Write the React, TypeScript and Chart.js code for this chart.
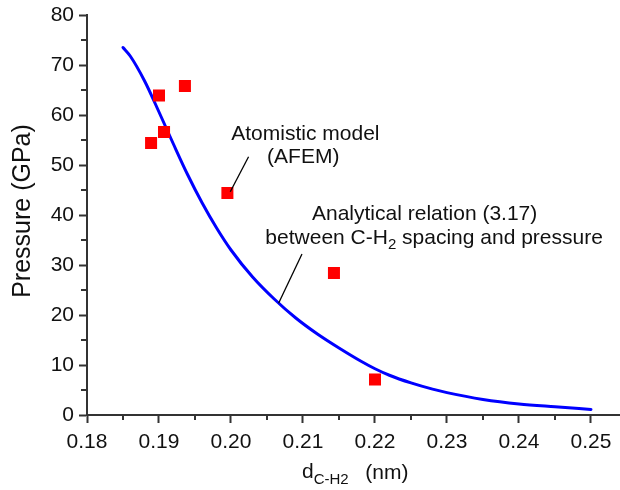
import React, { useEffect, useRef } from "react";
import { Chart, registerables } from "chart.js";
Chart.register(...registerables);

// Analytical relation curve
const curveX = [0.185, 0.186, 0.188, 0.190, 0.192, 0.194, 0.196, 0.198, 0.200, 0.203, 0.206, 0.209, 0.212, 0.215, 0.218, 0.220, 0.222, 0.225, 0.228, 0.230, 0.235, 0.240, 0.245, 0.250];
const curveY = [73.5, 71.8, 66.8, 60.6, 54.2, 48.0, 42.4, 37.4, 33.0, 27.6, 23.2, 19.4, 16.2, 13.4, 10.8, 9.25, 7.95, 6.42, 5.17, 4.48, 3.12, 2.21, 1.64, 1.12];

// Atomistic model (AFEM) points
const afemX = [0.1889, 0.1900, 0.1907, 0.1936, 0.1995, 0.2143, 0.2200];
const afemY = [54.4, 63.9, 56.6, 65.8, 44.4, 28.4, 7.1];

// Axis ticks
const xMajor = [0.18, 0.19, 0.20, 0.21, 0.22, 0.23, 0.24, 0.25];
const xMinor = [0.185, 0.195, 0.205, 0.215, 0.225, 0.235, 0.245];
const yMajor = [0, 10, 20, 30, 40, 50, 60, 70, 80];
const yMinor = [5, 15, 25, 35, 45, 55, 65, 75];

// Annotation texts and anchors (data units)
const afemLabel = ["Atomistic model", "(AFEM)"];
const afemLabelAt = [[0.21033, 55.0], [0.21004, 50.34]];
const afemPointer = [[0.20244, 51.66], [0.19990, 44.66]];
const analyticLine1 = "Analytical relation (3.17)";
const analyticLine2 = ["between C-H", "2", " spacing and pressure"];
const analyticAt = [[0.21125, 39.1], [0.20477, 34.3]];
const analyticPointer = [[0.20986, 32.2], [0.20661, 22.34]];

const FONT = "'Liberation Sans', Arial, Helvetica, sans-serif";
const AXIS = "#333333";
const TEXT = "#111111";

const overlay = {
  id: "overlay",
  afterDraw(chart: any) {
    const { ctx, scales, chartArea } = chart;
    const x = scales.x;
    const y = scales.y;
    ctx.save();
    ctx.strokeStyle = AXIS;
    ctx.lineWidth = 2;
    ctx.beginPath();
    for (const v of xMinor) {
      const px = Math.round(x.getPixelForValue(v));
      ctx.moveTo(px, chartArea.bottom);
      ctx.lineTo(px, chartArea.bottom + 5);
    }
    for (const v of yMinor) {
      const py = Math.round(y.getPixelForValue(v));
      ctx.moveTo(chartArea.left, py);
      ctx.lineTo(chartArea.left - 6, py);
    }
    ctx.stroke();

    // pointers
    ctx.strokeStyle = "#000";
    ctx.lineWidth = 1.3;
    for (const p of [afemPointer, analyticPointer]) {
      ctx.beginPath();
      ctx.moveTo(x.getPixelForValue(p[0][0]), y.getPixelForValue(p[0][1]));
      ctx.lineTo(x.getPixelForValue(p[1][0]), y.getPixelForValue(p[1][1]));
      ctx.stroke();
    }

    ctx.fillStyle = TEXT;
    ctx.textBaseline = "alphabetic";
    ctx.font = `21px ${FONT}`;
    ctx.textAlign = "center";
    afemLabel.forEach((t, i) => {
      ctx.fillText(t, x.getPixelForValue(afemLabelAt[i][0]), y.getPixelForValue(afemLabelAt[i][1]));
    });
    ctx.textAlign = "left";
    ctx.fillText(analyticLine1, x.getPixelForValue(analyticAt[0][0]), y.getPixelForValue(analyticAt[0][1]));
    let lx = x.getPixelForValue(analyticAt[1][0]);
    const ly = y.getPixelForValue(analyticAt[1][1]);
    ctx.font = `21px ${FONT}`;
    ctx.fillText(analyticLine2[0], lx, ly);
    lx += ctx.measureText(analyticLine2[0]).width;
    ctx.font = `15px ${FONT}`;
    ctx.fillText(analyticLine2[1], lx, ly + 5);
    lx += ctx.measureText(analyticLine2[1]).width;
    ctx.font = `21px ${FONT}`;
    ctx.fillText(analyticLine2[2], lx, ly);

    // x title
    let tx = x.getPixelForValue(0.20986);
    ctx.font = `21px ${FONT}`;
    ctx.fillText("d", tx, 478);
    tx += ctx.measureText("d").width;
    ctx.font = `15px ${FONT}`;
    ctx.fillText("C-H2", tx, 484);
    ctx.font = `21px ${FONT}`;
    ctx.fillText("(nm)", x.getPixelForValue(0.21865), 479);

    // y title
    ctx.translate(23, (chartArea.top + chartArea.bottom) / 2 - 4);
    ctx.rotate(-Math.PI / 2);
    ctx.textAlign = "center";
    ctx.textBaseline = "middle";
    ctx.font = `25px ${FONT}`;
    ctx.fillText("Pressure (GPa)", 0, 0);
    ctx.restore();
  },
};

export default function App() {
  const ref = useRef<HTMLCanvasElement | null>(null);
  useEffect(() => {
    if (!ref.current) return;
    const chart = new Chart(ref.current, {
      type: "scatter",
      data: {
        datasets: [
          {
            type: "line",
            label: "Analytical relation",
            data: curveX.map((v, i) => ({ x: v, y: curveY[i] })),
            borderColor: "#0000ff",
            borderWidth: 3,
            borderCapStyle: "round",
            pointRadius: 0,
            fill: false,
            cubicInterpolationMode: "monotone",
            order: 2,
          },
          {
            type: "scatter",
            label: "Atomistic model (AFEM)",
            data: afemX.map((v, i) => ({ x: v, y: afemY[i] })),
            backgroundColor: "#ff0000",
            borderColor: "#ff0000",
            borderWidth: 0,
            pointStyle: "rect",
            pointRadius: 8.5,
            order: 1,
          },
        ],
      } as any,
      options: {
        responsive: false,
        devicePixelRatio: 1,
        animation: false,
        layout: { autoPadding: false, padding: { top: 15, right: 0, left: 0, bottom: 0 } },
        plugins: { legend: { display: false }, tooltip: { enabled: false } },
        scales: {
          x: {
            type: "linear",
            min: 0.18,
            max: 0.25403,
            afterFit: (s: any) => { s.height = 75; s.paddingLeft = 0; s.paddingRight = 0; },
            afterBuildTicks: (s: any) => { s.ticks = xMajor.map((v) => ({ value: v })); },
            ticks: {
              includeBounds: false,
              padding: 7,
              color: TEXT,
              font: { family: FONT, size: 21 },
              callback: (v: any) => Number(v).toFixed(2),
              maxRotation: 0,
              autoSkip: false,
            },
            grid: { drawOnChartArea: false, drawTicks: true, tickLength: 8, tickColor: AXIS, tickWidth: 2 },
            border: { display: true, color: AXIS, width: 2 },
          },
          y: {
            type: "linear",
            min: 0,
            max: 80,
            afterFit: (s: any) => { s.width = 87; s.paddingTop = 0; s.paddingBottom = 0; },
            afterBuildTicks: (s: any) => { s.ticks = yMajor.map((v) => ({ value: v })); },
            ticks: {
              padding: 5,
              color: TEXT,
              font: { family: FONT, size: 21 },
              autoSkip: false,
            },
            grid: { drawOnChartArea: false, drawTicks: true, tickLength: 8, tickColor: AXIS, tickWidth: 2 },
            border: { display: true, color: AXIS, width: 2 },
          },
        },
      } as any,
      plugins: [overlay],
    });
    return () => chart.destroy();
  }, []);
  return (
    <div style={{ position: "absolute", left: 0, top: 0, width: 620, height: 490, background: "#fff" }}>
      <canvas ref={ref} width={620} height={490} />
    </div>
  );
}
